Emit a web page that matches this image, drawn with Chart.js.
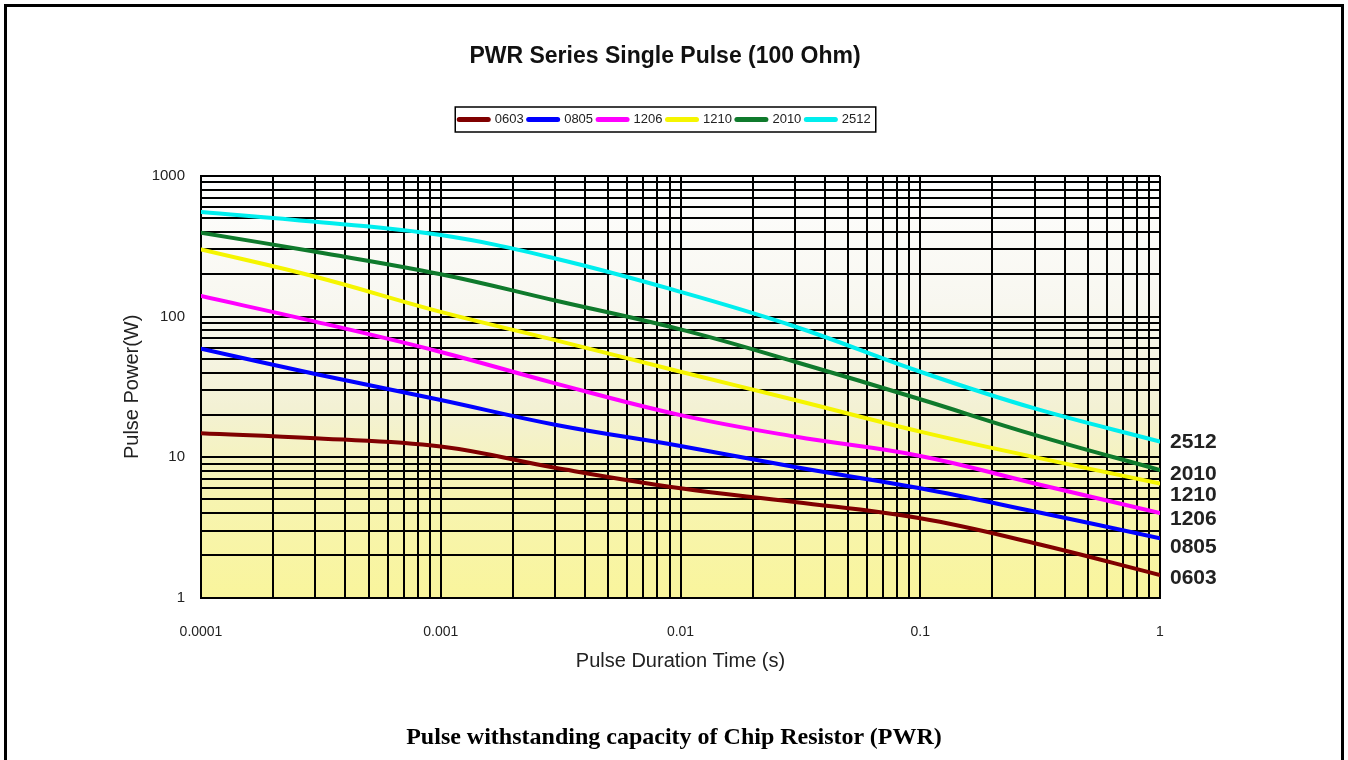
<!DOCTYPE html>
<html>
<head>
<meta charset="utf-8">
<title>PWR Series Single Pulse (100 Ohm)</title>
<script src="https://cdn.jsdelivr.net/npm/chart.js@4.4.1/dist/chart.umd.min.js"></script>
<style>
  html, body { margin: 0; padding: 0; background: #fff; }
  #wrap { position: relative; width: 1348px; height: 760px; overflow: hidden; }
  #frame { position: absolute; left: 4px; top: 4px; width: 1334px; height: 800px; border: 3px solid #000; pointer-events: none; }
  #caption { position: absolute; left: 0; top: 723px; width: 1348px; line-height: 28px; text-align: center;
             font: bold 24px 'Liberation Serif', 'Times New Roman', serif; color: #000; }
</style>
</head>
<body>
<div id="wrap">
  <canvas id="pulse-chart" width="1348" height="760"></canvas>
  <div id="caption">Pulse withstanding capacity of Chip Resistor (PWR)</div>
  <div id="frame"></div>
</div>
<script>
const sizes = ['0603', '0805', '1206', '1210', '2010', '2512'];
const pulseTimes = [0.0001, 0.0003, 0.001, 0.003, 0.01, 0.03, 0.1, 0.3, 1];
const power0603 = [14.8, 13.6, 11.9, 8.4, 6.0, 4.8, 3.67, 2.44, 1.45];
const power0805 = [59, 39, 25.5, 17, 12, 8.5, 6.0, 4.1, 2.65];
const power1206 = [140, 92, 56, 33.5, 19.9, 14.0, 10.2, 6.5, 4.0];
const power1210 = [300, 192, 108, 68, 40.5, 25.5, 15.2, 10, 6.5];
const power2010 = [395, 289, 200, 130, 81, 47.7, 25.8, 14.4, 8.1];
const power2512 = [555, 472, 380, 259, 150, 85, 40.5, 22.2, 12.9];
const timeTicks = [0.0001, 0.001, 0.01, 0.1, 1];
const powerTicks = [1, 10, 100, 1000];

const series = [power0603, power0805, power1206, power1210, power2010, power2512];
const colors = ['#800000', '#0000ff', '#ff00ff', '#f5f500', '#0f7a2c', '#00eeee'];
// nudges (px) so the size labels at the right end don't overlap
const endLabelShift = [3, 8.5, 6.5, 12, 4.5, 1];

const font = "'Liberation Sans', Arial, sans-serif";
const ink = '#222';

// 1..9 x each decade, for the log paper grid
function logGrid(decades) {
  const out = [];
  decades.forEach((d, i) => {
    if (i === decades.length - 1) { out.push(d); return; }
    for (let m = 1; m < 10; m++) out.push(Number((m * d).toPrecision(6)));
  });
  return out;
}
const isDecade = (v, list) => list.some(d => Math.abs(v / d - 1) < 1e-9);

const plotDecor = {
  id: 'plotDecor',
  beforeDraw(chart) {
    const {ctx, chartArea: a} = chart;
    const g = ctx.createLinearGradient(0, a.top, 0, a.bottom);
    g.addColorStop(0, '#fefefe');
    g.addColorStop(0.3, '#f8f7f0');
    g.addColorStop(0.55, '#f3f1d4');
    g.addColorStop(0.75, '#f7f4b2');
    g.addColorStop(1, '#f9f59c');
    ctx.save();
    ctx.fillStyle = g;
    ctx.fillRect(a.left, a.top, a.width, a.height);
    ctx.restore();
  },
  afterDatasetsDraw(chart) {
    const {ctx, chartArea: a} = chart;
    ctx.save();
    ctx.font = 'bold 21px ' + font;
    ctx.fillStyle = ink;
    ctx.textAlign = 'left';
    ctx.textBaseline = 'middle';
    sizes.forEach((name, i) => {
      const pts = chart.getDatasetMeta(i).data;
      const last = pts[pts.length - 1];
      ctx.fillText(name, a.right + 10, last.y + endLabelShift[i]);
    });
    ctx.restore();
  },
  afterDraw(chart) {
    const boxes = chart.legend.legendHitBoxes;
    if (!boxes || !boxes.length) return;
    const left = Math.min(...boxes.map(b => b.left)) - 4;
    const right = Math.max(...boxes.map(b => b.left + b.width)) + 5;
    const top = boxes[0].top - 6;
    const bottom = boxes[0].top + boxes[0].height + 6;
    const ctx = chart.ctx;
    ctx.save();
    ctx.strokeStyle = '#000';
    ctx.lineWidth = 1.5;
    ctx.strokeRect(left, top, right - left, bottom - top);
    ctx.restore();
  }
};

const pulseChart = new Chart(document.getElementById('pulse-chart'), {
  type: 'line',
  data: {
    datasets: sizes.map((name, i) => ({
      label: name,
      data: pulseTimes.map((t, j) => ({x: t, y: series[i][j]})),
      borderColor: colors[i],
      backgroundColor: colors[i],
      borderWidth: 4,
      borderCapStyle: 'round',
      pointRadius: 0,
      tension: 0.4,
      fill: false
    }))
  },
  options: {
    responsive: false,
    animation: false,
    devicePixelRatio: 1,
    layout: { padding: {left: 0, right: 18, top: 0, bottom: 72.3} },
    plugins: {
      title: {
        display: true,
        text: 'PWR Series Single Pulse (100 Ohm)',
        color: '#111',
        font: {family: font, size: 23, weight: 'bold'},
        padding: {top: 43, bottom: 37.4}
      },
      legend: {
        position: 'top',
        labels: {
          usePointStyle: true,
          pointStyle: 'line',
          pointStyleWidth: 29,
          padding: 5,
          color: ink,
          font: {family: font, size: 13},
          generateLabels: chart => Chart.defaults.plugins.legend.labels.generateLabels(chart)
            .map(item => ({...item, lineWidth: 5, lineCap: 'round'}))
        }
      },
      // empty subtitle keeps the gap between legend and plot
      subtitle: {
        display: true,
        text: '',
        weight: 500,
        font: {size: 10, lineHeight: 1},
        padding: {top: 30, bottom: 0}
      },
      tooltip: {enabled: false}
    },
    scales: {
      x: {
        type: 'logarithmic',
        min: 0.0001,
        max: 1,
        afterBuildTicks: s => { s.ticks = logGrid(timeTicks).map(v => ({value: v})); },
        afterFit: s => { s.height = 90; },
        grid: {color: '#000', lineWidth: 2, drawTicks: false},
        border: {color: '#000', width: 2},
        ticks: {
          autoSkip: false, maxRotation: 0, padding: 26, color: ink,
          font: {family: font, size: 14},
          callback: v => isDecade(v, timeTicks) ? String(v) : ''
        },
        title: {
          display: true, text: 'Pulse Duration Time (s)', color: ink,
          font: {family: font, size: 20}, padding: {top: 0, bottom: 14.7}
        }
      },
      y: {
        type: 'logarithmic',
        min: 1,
        max: 1000,
        afterBuildTicks: s => { s.ticks = logGrid(powerTicks).map(v => ({value: v})); },
        afterFit: s => { s.width = 201; },
        grid: {color: '#000', lineWidth: 2, drawTicks: false},
        border: {color: '#000', width: 2},
        ticks: {
          autoSkip: false, padding: 16, color: ink,
          font: {family: font, size: 15},
          callback: v => isDecade(v, powerTicks) ? String(v) : ''
        },
        title: {
          display: true, text: 'Pulse Power(W)', color: ink,
          font: {family: font, size: 20}, padding: {top: 120, bottom: 0}
        }
      },
      // room on the right for the size labels
      yEnd: {
        type: 'logarithmic',
        position: 'right',
        min: 1,
        max: 1000,
        grid: {display: false},
        border: {display: false},
        ticks: {display: false},
        afterFit: s => { s.width = 170; }
      }
    }
  },
  plugins: [plotDecor]
});
</script>
</body>
</html>
